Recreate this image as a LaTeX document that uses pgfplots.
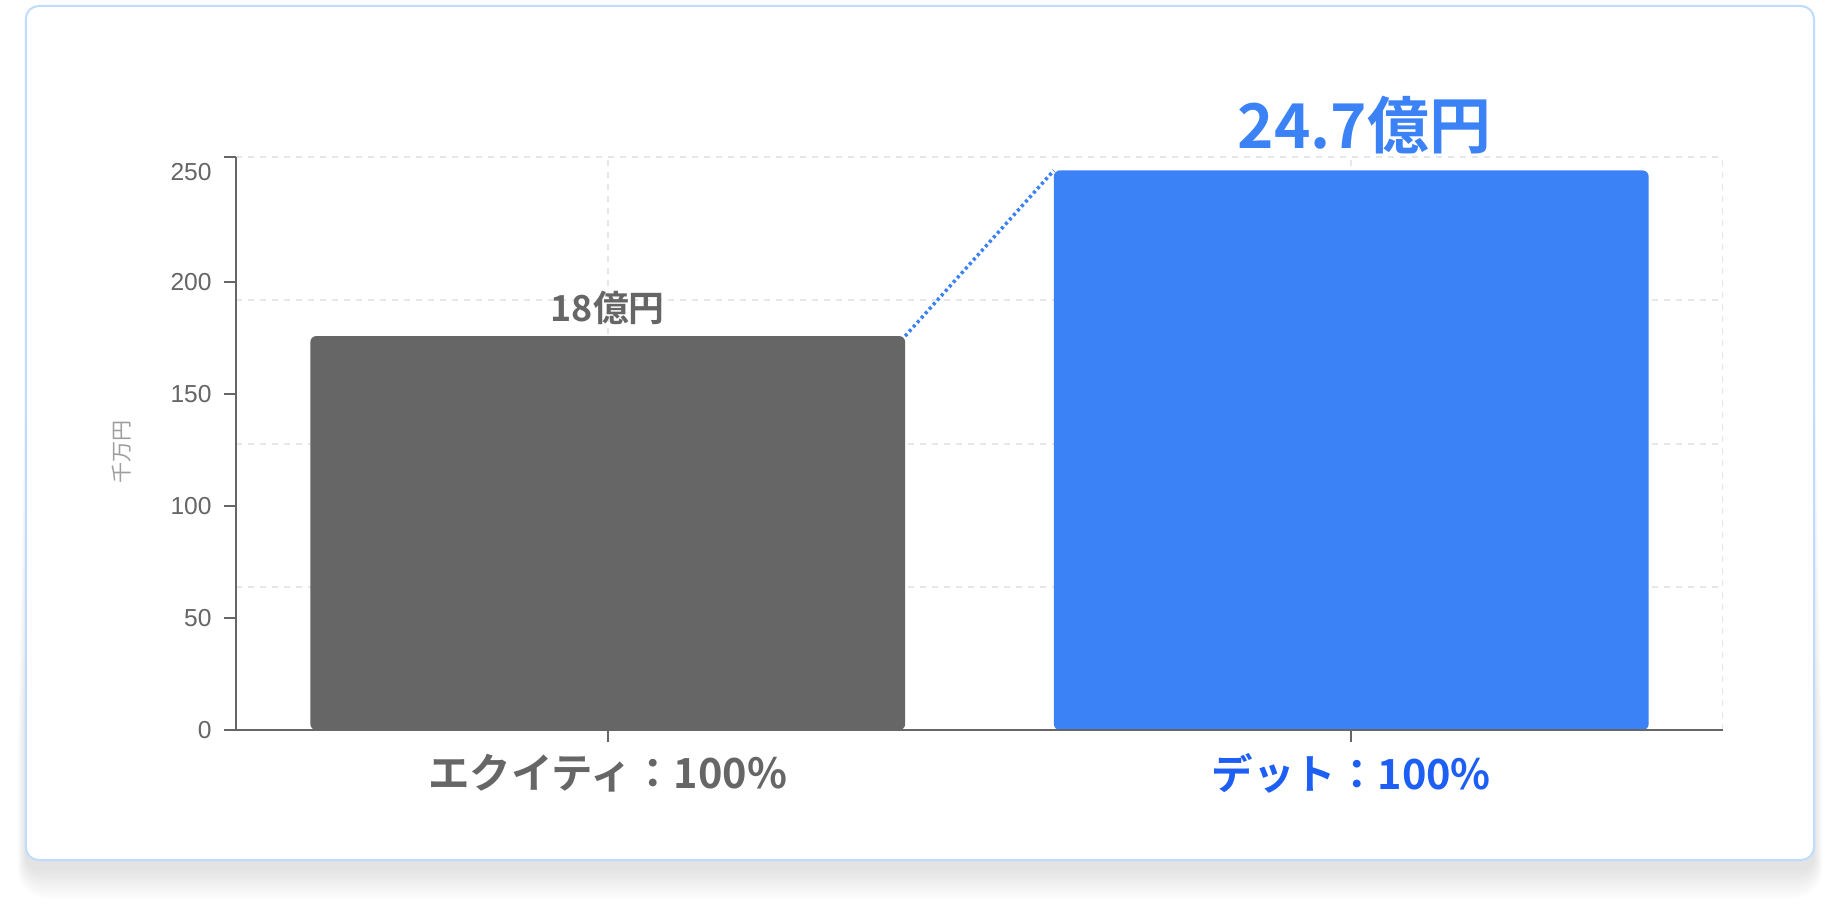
\documentclass[border=0pt]{standalone}
\usepackage{fontspec}
\usepackage{pgfplots}
\pgfplotsset{compat=1.18}
\setmainfont{Liberation Sans}
\newfontfamily\cjk{Noto Sans CJK JP}[BoldFont=* Bold]

\definecolor{bargray}{HTML}{666666}
\definecolor{barblue}{HTML}{3B82F6}
\definecolor{axisgray}{HTML}{666666}
\definecolor{gridc}{HTML}{E5E7EB}
\definecolor{ylabc}{HTML}{9E9E9E}
\definecolor{debtc}{HTML}{1D5FF5}
\definecolor{cardline}{HTML}{BFDBFE}

\pgfplotsset{
  layers/barlayers/.define layer set={
    axis background,axis grid,main,axis ticks,axis lines,axis tick labels,axis descriptions,axis foreground
  }{/pgfplots/layers/standard},
}

\begin{document}
\begin{tikzpicture}
% page background, card and its shadow (1px = 0.1mm)
\fill[white] (0,0) rectangle (184mm,90.6mm);
\foreach \i in {1,...,14} {
  \fill[black, fill opacity=0.008, rounded corners={1.3mm+\i*0.12mm}]
    (2.6mm-\i*0.06mm, 3.8mm-\i*0.22mm) rectangle (181.4mm+\i*0.06mm, 62mm-\i*3mm);
}
\filldraw[fill=white, draw=cardline, line width=0.2mm, rounded corners=1.3mm]
  (2.58mm,4.6mm) rectangle (181.4mm,90mm);

\begin{axis}[
  set layers=barlayers,
  at={(23.6mm,17.6mm)}, anchor=south west,
  scale only axis, width=148.7mm, height=57.3mm,
  xmin=-0.5, xmax=1.5, ymin=0, ymax=256,
  axis x line*=bottom, axis y line*=left,
  axis line style={-, draw=axisgray, line width=0.18mm},
  tick style={draw=axisgray, line width=0.18mm},
  tick align=outside, major tick length=1.2mm,
  xtick={0,1},
  xticklabels={{\color{bargray}エクイティ：100\%},{\color{debtc}デット：100\%}},
  xticklabel style={font=\cjk\bfseries\fontsize{11.8pt}{14pt}\selectfont,
    anchor=center, yshift=-3.1mm},
  ytick={0,50,100,150,200},
  extra y ticks={256}, extra y tick labels={250},
  extra y tick style={yticklabel style={yshift=-1.5mm}},
  yticklabel style={font=\fontsize{7pt}{8pt}\selectfont, color=axisgray,
    /pgf/number format/assume math mode=true},
  ylabel={千万円},
  ylabel style={font=\cjk\fontsize{6pt}{7pt}\selectfont, color=ylabc,
    at={(rel axis cs:-0.0767,0.485)}, anchor=center},
]
% dashed grid
\draw[gridc, line width=0.2mm, dash pattern=on 0.6mm off 0.6mm] (axis cs:-0.5,64) -- (axis cs:1.5,64);
\draw[gridc, line width=0.2mm, dash pattern=on 0.6mm off 0.6mm] (axis cs:-0.5,128) -- (axis cs:1.5,128);
\draw[gridc, line width=0.2mm, dash pattern=on 0.6mm off 0.6mm] (axis cs:-0.5,192) -- (axis cs:1.5,192);
\draw[gridc, line width=0.2mm, dash pattern=on 0.6mm off 0.6mm] (axis cs:-0.5,256) -- (axis cs:1.5,256);
\draw[gridc, line width=0.2mm, dash pattern=on 0.6mm off 0.6mm] (axis cs:0,0) -- (axis cs:0,256);
\draw[gridc, line width=0.2mm, dash pattern=on 0.6mm off 0.6mm] (axis cs:1,0) -- (axis cs:1,256);
\draw[gridc, line width=0.2mm, dash pattern=on 0.6mm off 0.6mm] (axis cs:1.5,0) -- (axis cs:1.5,256);

% equity
\addplot[ybar, bar width=0.8, bar shift=0pt, fill=bargray, draw=none, rounded corners=0.6mm,
  nodes near coords={18億円},
  every node near coord/.append style={anchor=center, yshift=2.8mm, color=bargray,
    font=\cjk\bfseries\fontsize{10.2pt}{12pt}\selectfont}]
  coordinates {(0,176)};

% debt
\addplot[ybar, bar width=0.8, bar shift=0pt, fill=barblue, draw=none, rounded corners=0.6mm,
  nodes near coords={24.7億円},
  every node near coord/.append style={anchor=center, yshift=4.5mm, xshift=1.3mm, color=barblue,
    font=\cjk\bfseries\fontsize{17.6pt}{20pt}\selectfont}]
  coordinates {(1,250)};

% connector between bar tops
\addplot[draw=barblue, line width=0.35mm, dash pattern=on 0.3mm off 0.3mm]
  coordinates {(0.4,176) (0.6,250)};
\end{axis}
\pgfresetboundingbox
\useasboundingbox (0,0) rectangle (184mm,90.6mm);
\end{tikzpicture}
\end{document}
